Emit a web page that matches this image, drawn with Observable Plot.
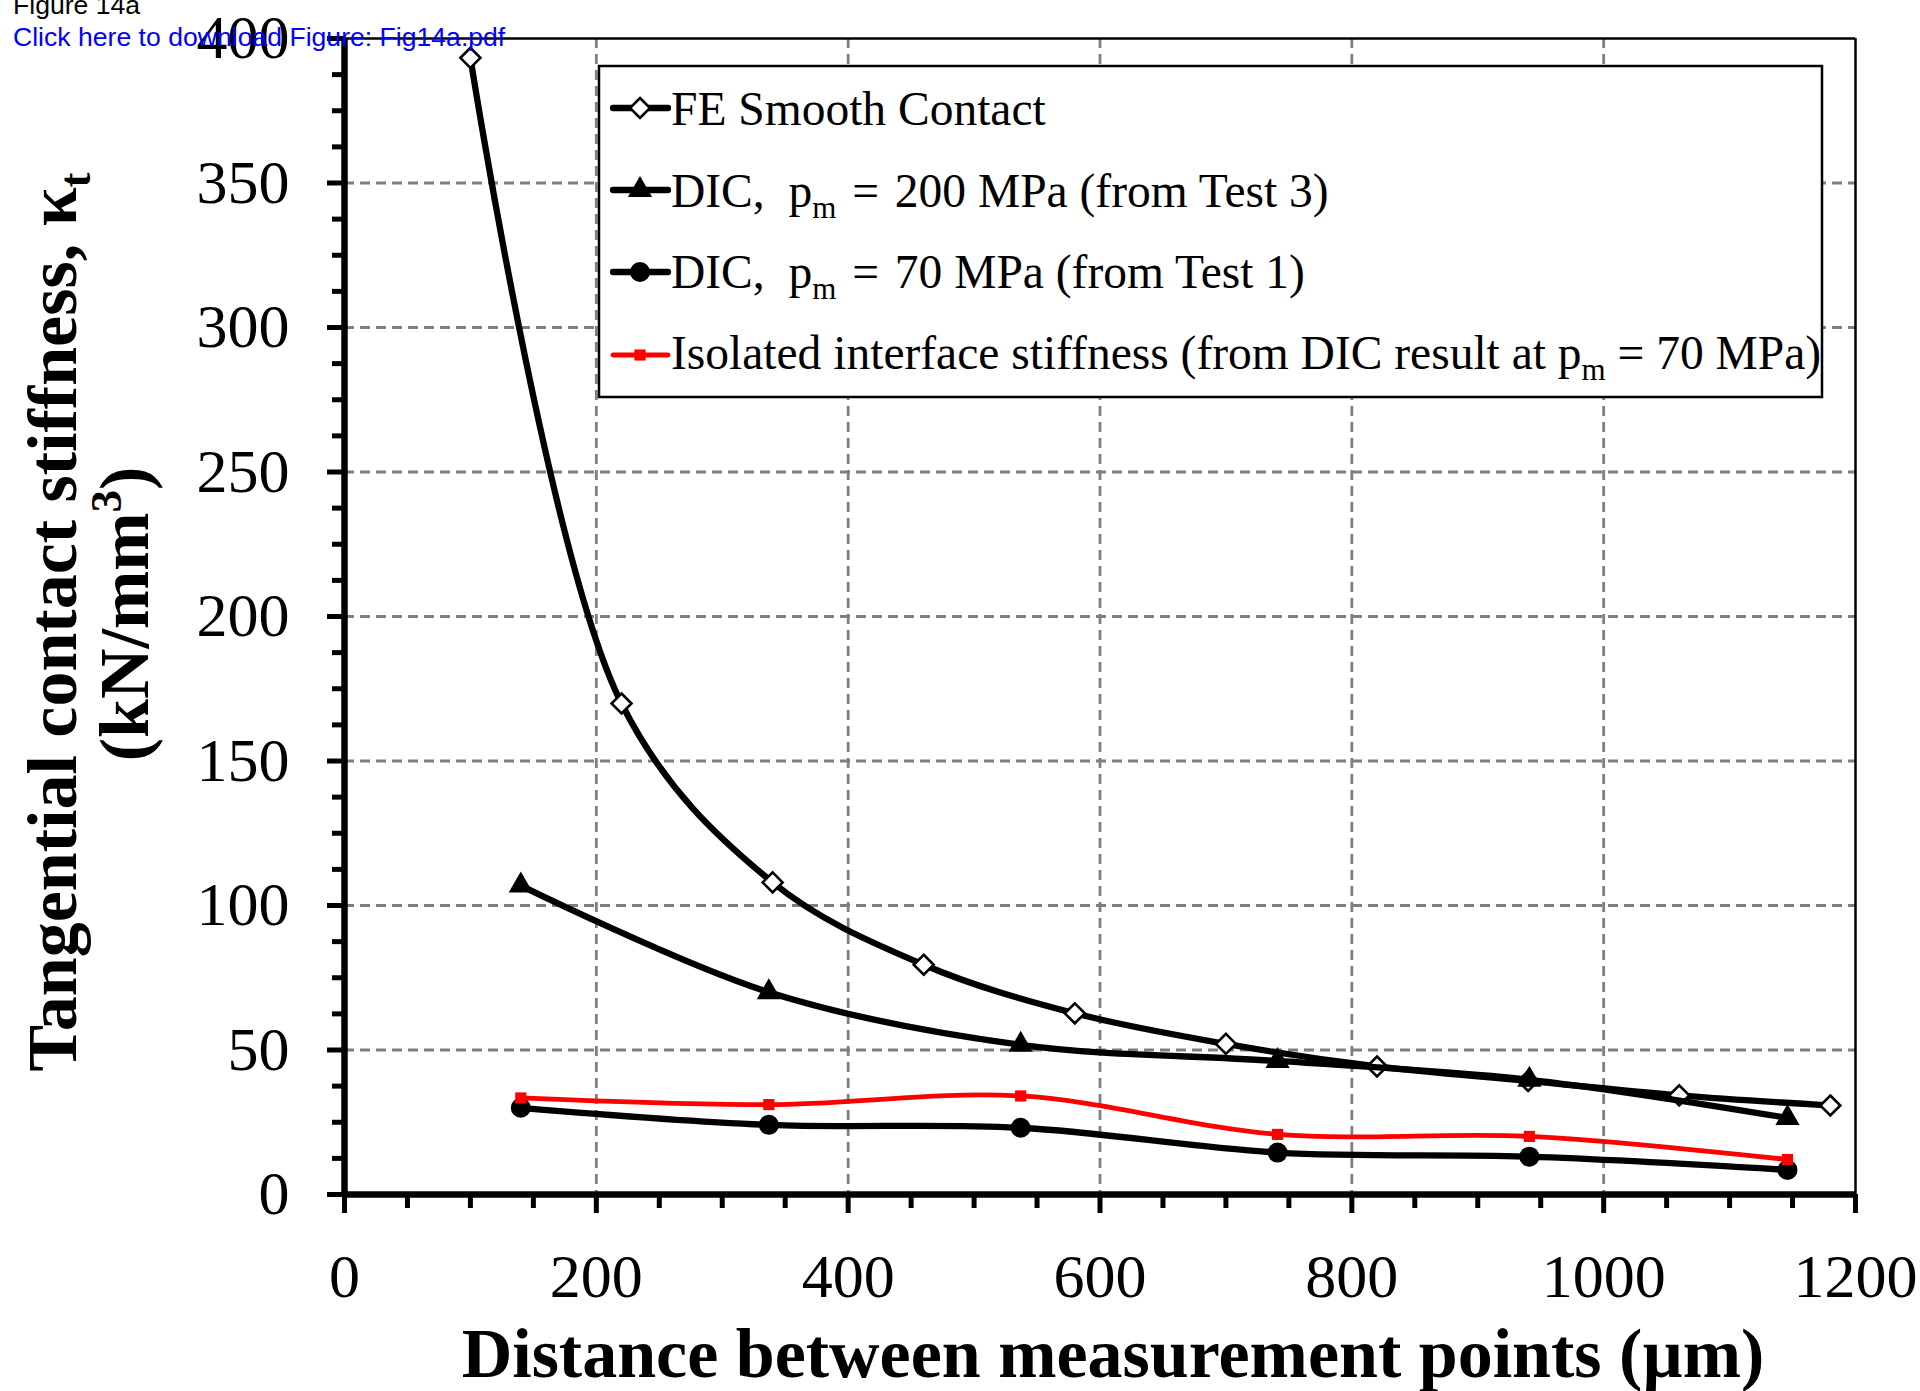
<!DOCTYPE html>
<html>
<head>
<meta charset="utf-8">
<script src="https://cdn.jsdelivr.net/npm/d3@7"></script>
<script src="https://cdn.jsdelivr.net/npm/@observablehq/plot@0.6"></script>
<style>
html, body { margin: 0; padding: 0; background: #fff; }
#chart { position: relative; width: 1920px; height: 1391px; overflow: hidden; }
#chart svg { display: block; }
</style>
</head>
<body>
<div id="chart"></div>
<script>
// ---- data ----
const feX = [100, 220, 340, 460, 580, 700, 820, 940, 1060, 1180];
const feY = [393.3, 169.9, 108, 79.5, 62.7, 52.1, 44.3, 39.3, 34.3, 30.8];
const dicX = [140, 337, 537, 741, 941, 1146];
const dic200Y = [106.9, 70.0, 51.8, 46.2, 39.7, 26.5];
const dic70Y = [30.0, 24.1, 23.1, 14.5, 13.1, 8.5];
const isoY = [33.4, 31.1, 34.1, 20.8, 20.1, 12.1];

const xMajor = [0, 200, 400, 600, 800, 1000, 1200];
const xMinor = d3.range(50, 1200, 50).filter(v => v % 200 !== 0);
const yMajor = [0, 50, 100, 150, 200, 250, 300, 350, 400];
const yMinor = d3.range(12.5, 400, 12.5).filter(v => v % 50 !== 0);

const seriesNames = [
  "FE Smooth Contact",
  "DIC, p_m = 200 MPa (from Test 3)",
  "DIC, p_m = 70 MPa (from Test 1)",
  "Isolated interface stiffness (from DIC result at p_m = 70 MPa)"
];

const fe = feX.map((x, i) => ({x, y: feY[i]}));
const d200 = dicX.map((x, i) => ({x, y: dic200Y[i]}));
const d70 = dicX.map((x, i) => ({x, y: dic70Y[i]}));
const iso = dicX.map((x, i) => ({x, y: isoY[i]}));

const serif = "'Liberation Serif','Times New Roman',Times,serif";
const gridStyle = {stroke: "#7f7f7f", strokeOpacity: 1, strokeWidth: 2.8, strokeDasharray: "10,6"};

const plot = Plot.plot({
  width: 1920,
  height: 1391,
  marginLeft: 344,
  marginRight: 65,
  marginTop: 38,
  marginBottom: 197,
  x: {domain: [0, 1200]},
  y: {domain: [0, 400]},
  style: {fontFamily: serif, background: "white", color: "black"},
  marks: [
    Plot.gridX(xMajor.filter(v => v > 0 && v < 1200), gridStyle),
    Plot.gridY(yMajor.filter(v => v > 0 && v < 400), gridStyle),
    Plot.ruleY([400], {stroke: "black", strokeWidth: 2.5}),
    Plot.ruleX([1200], {stroke: "black", strokeWidth: 2.5}),
    Plot.axisX(xMinor, {tickSize: 14, tickFormat: () => "", strokeWidth: 5, label: null}),
    Plot.axisX(xMajor, {tickSize: 19, tickPadding: 39, fontSize: 62, strokeWidth: 5, label: null, tickFormat: d => String(d)}),
    Plot.axisY(yMinor, {tickSize: 12, tickFormat: () => "", strokeWidth: 5, label: null}),
    Plot.axisY(yMajor, {tickSize: 17, tickPadding: 38, fontSize: 62, strokeWidth: 5, label: null, tickFormat: d => String(d)}),
    Plot.ruleX([0], {stroke: "black", strokeWidth: 6.5}),
    Plot.ruleY([0], {stroke: "black", strokeWidth: 6.5}),
    // FE Smooth Contact
    Plot.line(fe, {x: "x", y: "y", stroke: "black", strokeWidth: 6.3, curve: "catmull-rom"}),
    Plot.dot(fe, {x: "x", y: "y", symbol: "diamond2", r: 9, fill: "white", stroke: "black", strokeWidth: 2.6}),
    // DIC 200 MPa
    Plot.line(d200, {x: "x", y: "y", stroke: "black", strokeWidth: 6.3, curve: "catmull-rom"}),
    Plot.dot(d200, {x: "x", y: "y", symbol: "triangle", r: 9, fill: "black", stroke: "none"}),
    // DIC 70 MPa
    Plot.line(d70, {x: "x", y: "y", stroke: "black", strokeWidth: 6.3, curve: "catmull-rom"}),
    Plot.dot(d70, {x: "x", y: "y", symbol: "circle", r: 10, fill: "black", stroke: "none"}),
    // Isolated interface stiffness
    Plot.line(iso, {x: "x", y: "y", stroke: "#ff0000", strokeWidth: 4.8, curve: "catmull-rom"}),
    Plot.dot(iso, {x: "x", y: "y", symbol: "square", r: 6.3, fill: "#ff0000", stroke: "none"})
  ]
});

document.getElementById("chart").appendChild(plot);
const svg = d3.select(plot);

// ---- axis titles ----
svg.append("text")
  .attr("x", 1113).attr("y", 1377)
  .attr("text-anchor", "middle")
  .attr("font-family", serif).attr("font-weight", "bold").attr("font-size", 70)
  .attr("fill", "black")
  .text("Distance between measurement points (µm)");

const yt1 = svg.append("text")
  .attr("transform", "translate(76,622) rotate(-90)")
  .attr("text-anchor", "middle")
  .attr("font-family", serif).attr("font-weight", "bold").attr("font-size", 70)
  .attr("fill", "black");
yt1.append("tspan").text("Tangential contact stiffness, κ");
yt1.append("tspan").attr("font-size", 45).attr("dy", 14).text("t");

const yt2 = svg.append("text")
  .attr("transform", "translate(148,614) rotate(-90)")
  .attr("text-anchor", "middle")
  .attr("font-family", serif).attr("font-weight", "bold").attr("font-size", 70)
  .attr("fill", "black");
yt2.append("tspan").text("(kN/mm");
yt2.append("tspan").attr("font-size", 45).attr("dy", -27).text("3");
yt2.append("tspan").attr("dy", 27).text(")");

// ---- legend ----
const lg = svg.append("g").attr("transform", "translate(599,66)");
lg.append("rect").attr("width", 1223).attr("height", 331)
  .attr("fill", "white").attr("stroke", "black").attr("stroke-width", 2.5);

const legendRows = [
  {name: seriesNames[0], lineY: 42, base: 59, color: "black", sym: "diamond"},
  {name: seriesNames[1], lineY: 124, base: 141, color: "black", sym: "triangle"},
  {name: seriesNames[2], lineY: 206, base: 222, color: "black", sym: "circle"},
  {name: seriesNames[3], lineY: 289, base: 303, color: "#ff0000", sym: "square"}
];
legendRows.forEach((row, i) => {
  lg.append("line").attr("x1", 14).attr("x2", 69).attr("y1", row.lineY).attr("y2", row.lineY)
    .attr("stroke", row.color).attr("stroke-width", row.color === "black" ? 6.3 : 4.8).attr("stroke-linecap", "round");
  const g = lg.append("g").attr("transform", `translate(41,${row.lineY})`);
  if (row.sym === "diamond") {
    g.append("path").attr("d", d3.symbol(d3.symbolDiamond2, Math.PI * 9 * 9)())
      .attr("fill", "white").attr("stroke", "black").attr("stroke-width", 2.6);
  } else if (row.sym === "triangle") {
    g.append("path").attr("d", d3.symbol(d3.symbolTriangle, Math.PI * 9 * 9)()).attr("fill", "black");
  } else if (row.sym === "circle") {
    g.append("circle").attr("r", 10).attr("fill", "black");
  } else {
    g.append("path").attr("d", d3.symbol(d3.symbolSquare, Math.PI * 6.3 * 6.3)()).attr("fill", "#ff0000");
  }
  const t = lg.append("text").attr("x", 72).attr("y", row.base)
    .attr("text-anchor", "start")
    .attr("font-family", serif).attr("font-size", 47.5).attr("fill", "black")
    .style("white-space", "pre").attr("xml:space", "preserve");
  const parts = row.name.split("p_m");
  if (parts.length === 1) {
    t.append("tspan").text(parts[0]);
  } else {
    const pre = parts[0].replace("DIC, ", "DIC,  ");
    t.append("tspan").text(pre + "p");
    t.append("tspan").attr("font-size", 31).attr("dy", 11).text("m");
    const rest = i < 3 ? parts[1].replace(" = ", "\u200A = \u200A") : parts[1];
    t.append("tspan").attr("dy", -11).text(rest);
  }
});

// ---- page header texts ----
svg.append("text").attr("x", 13).attr("y", 14)
  .attr("text-anchor", "start")
  .attr("font-family", "'Liberation Sans',Arial,sans-serif").attr("font-size", 26.6).attr("fill", "black")
  .text("Figure 14a");
svg.append("text").attr("x", 13).attr("y", 46)
  .attr("text-anchor", "start")
  .attr("font-family", "'Liberation Sans',Arial,sans-serif").attr("font-size", 26.6).attr("fill", "#0000ff")
  .text("Click here to download Figure: Fig14a.pdf");
</script>
</body>
</html>
